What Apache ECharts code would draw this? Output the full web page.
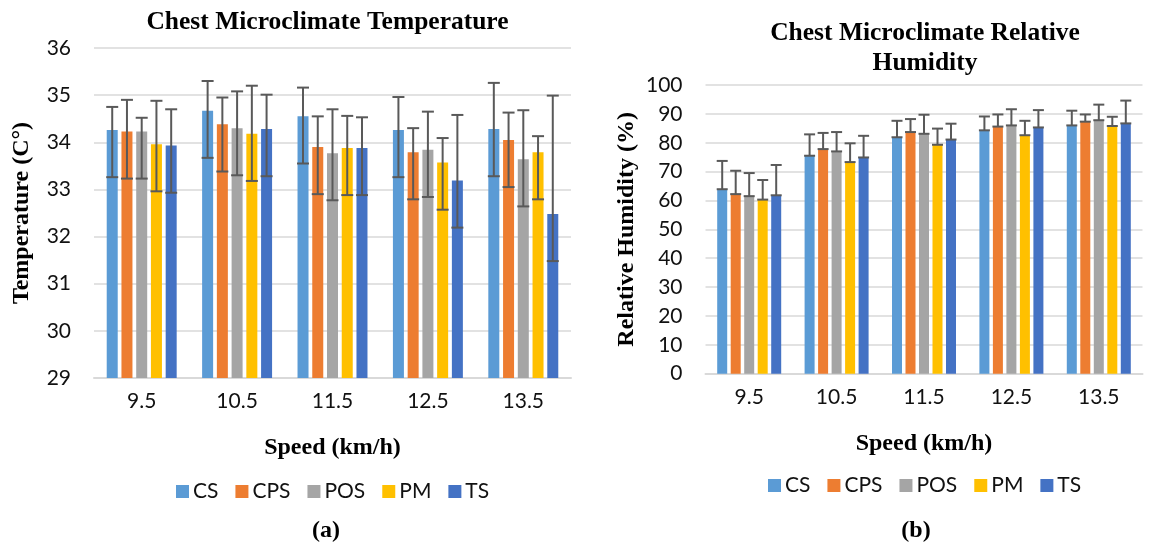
<!DOCTYPE html>
<html><head><meta charset="utf-8">
<script src="https://cdn.jsdelivr.net/npm/echarts@6/dist/echarts.min.js"></script>
<style>html,body{margin:0;padding:0;background:#fff}#c{width:1152px;height:546px}</style>
</head><body><div id="c"></div>
<script>
// ---------- data ----------
const categories = ['9.5', '10.5', '11.5', '12.5', '13.5'];
const seriesNames = ['CS', 'CPS', 'POS', 'PM', 'TS'];

// (a) Chest microclimate temperature (°C)
const tempCS  = [34.26, 34.67, 34.55, 34.26, 34.28];
const tempCPS = [34.23, 34.38, 33.90, 33.79, 34.05];
const tempPOS = [34.23, 34.30, 33.77, 33.84, 33.64];
const tempPM  = [33.96, 34.18, 33.88, 33.57, 33.79];
const tempTS  = [33.93, 34.28, 33.88, 33.19, 32.48];
// error bars (upper / lower amounts)
const tempPlusCS  = [0.49, 0.63, 0.61, 0.70, 0.98];
const tempPlusCPS = [0.67, 0.57, 0.65, 0.51, 0.58];
const tempPlusPOS = [0.29, 0.78, 0.93, 0.81, 1.04];
const tempPlusPM  = [0.92, 1.02, 0.68, 0.52, 0.34];
const tempPlusTS  = [0.77, 0.73, 0.65, 1.39, 2.51];
const tempMinus   = [1.00, 1.00, 1.00, 1.00, 1.00];
const tempTicks = [29, 30, 31, 32, 33, 34, 35, 36];

// (b) Chest microclimate relative humidity (%)
const rhCS  = [63.9, 75.5, 81.9, 84.3, 86.0];
const rhCPS = [62.2, 77.8, 83.7, 85.6, 87.3];
const rhPOS = [61.5, 77.0, 83.1, 86.0, 87.8];
const rhPM  = [60.3, 73.3, 79.3, 82.6, 85.8];
const rhTS  = [61.8, 74.9, 81.1, 85.3, 86.7];
const rhPlusCS  = [9.8, 7.4, 5.7, 4.8, 5.1];
const rhPlusCPS = [8.1, 5.6, 4.5, 4.2, 2.5];
const rhPlusPOS = [8.0, 6.7, 6.6, 5.6, 5.4];
const rhPlusPM  = [6.8, 6.5, 5.6, 5.0, 3.2];
const rhPlusTS  = [10.5, 7.5, 5.5, 6.0, 7.9];
const rhMinus   = [0, 0, 0, 0, 0];
const rhTicks = [0, 10, 20, 30, 40, 50, 60, 70, 80, 90, 100];

// ---------- styling ----------
const colors = ['#5B9BD5', '#ED7D31', '#A5A5A5', '#FFC000', '#4472C4'];
const SERIF = '"Liberation Serif", "Times New Roman", serif';
const SANS = 'Lato, "Open Sans", sans-serif';
const gridColor = '#D9D9D9';
const errColor = '#595959';

const tempVals = [tempCS, tempCPS, tempPOS, tempPM, tempTS];
const tempPlus = [tempPlusCS, tempPlusCPS, tempPlusPOS, tempPlusPM, tempPlusTS];
const rhVals = [rhCS, rhCPS, rhPOS, rhPM, rhTS];
const rhPlus = [rhPlusCS, rhPlusCPS, rhPlusPOS, rhPlusPM, rhPlusTS];

const BAR_A = 11, GAP_A = 0.34, CAP_A = 12;
const BAR_B = 10, GAP_B = 0.35, CAP_B = 11;

function errData(vals, plus, minus) {
  const out = [];
  vals.forEach((arr, si) => arr.forEach((v, ci) => {
    out.push([ci, si, v - minus[ci], v + plus[si][ci]]);
  }));
  return out;
}

function errRender(w, gap, capW) {
  const n = seriesNames.length;
  return function (params, api) {
    const ci = api.value(0), si = api.value(1);
    const lo = api.value(2), hi = api.value(3);
    const off = (si - (n - 1) / 2) * w * (1 + gap);
    const pLo = api.coord([ci, lo]);
    const pHi = api.coord([ci, hi]);
    const cx = pLo[0] + off;
    const st = { stroke: errColor, lineWidth: 2 };
    return {
      type: 'group',
      children: [
        { type: 'line', shape: { x1: cx, y1: pLo[1], x2: cx, y2: pHi[1] }, style: st },
        { type: 'line', shape: { x1: cx - capW / 2, y1: pHi[1], x2: cx + capW / 2, y2: pHi[1] }, style: st },
        { type: 'line', shape: { x1: cx - capW / 2, y1: pLo[1], x2: cx + capW / 2, y2: pLo[1] }, style: st }
      ]
    };
  };
}

function xAxisCfg(gi) {
  return {
    type: 'category', gridIndex: gi, data: categories,
    axisLine: { lineStyle: { color: gridColor, width: 2 } },
    axisTick: { show: false },
    axisLabel: { color: '#111', fontFamily: SANS, fontSize: 21, margin: 13 },
    name: 'Speed (km/h)', nameLocation: 'middle', nameGap: 58,
    nameTextStyle: { color: '#000', fontFamily: SERIF, fontWeight: 'bold', fontSize: 24 }
  };
}
function yAxisCfg(gi, min, max, interval, name, gap) {
  return {
    type: 'value', gridIndex: gi, min: min, max: max, interval: interval,
    axisLine: { show: false }, axisTick: { show: false },
    splitLine: { lineStyle: { color: gridColor, width: 1.5 } },
    axisLabel: { color: '#111', fontFamily: SANS, fontSize: 21, margin: 23 },
    name: name, nameLocation: 'middle', nameGap: gap, nameRotate: 90,
    nameTextStyle: { color: '#000', fontFamily: SERIF, fontWeight: 'bold', fontSize: 24 }
  };
}

const series = [];
seriesNames.forEach((nm, i) => {
  series.push({ name: nm, type: 'bar', xAxisIndex: 0, yAxisIndex: 0, data: tempVals[i],
    barWidth: BAR_A, barGap: (GAP_A * 100) + '%', itemStyle: { color: colors[i] } });
});
seriesNames.forEach((nm, i) => {
  series.push({ name: nm, type: 'bar', xAxisIndex: 1, yAxisIndex: 1, data: rhVals[i],
    barWidth: BAR_B, barGap: (GAP_B * 100) + '%', itemStyle: { color: colors[i] } });
});
series.push({ name: 'errA', type: 'custom', xAxisIndex: 0, yAxisIndex: 0, z: 10,
  renderItem: errRender(BAR_A, GAP_A, CAP_A), encode: { x: 0, y: [2, 3] },
  data: errData(tempVals, tempPlus, tempMinus), silent: true });
series.push({ name: 'errB', type: 'custom', xAxisIndex: 1, yAxisIndex: 1, z: 10,
  renderItem: errRender(BAR_B, GAP_B, CAP_B), encode: { x: 0, y: [2, 3] },
  data: errData(rhVals, rhPlus, rhMinus), silent: true });

const legendBase = {
  data: seriesNames, icon: 'rect', itemWidth: 13, itemHeight: 13, itemGap: 17,
  textStyle: { color: '#111', fontFamily: SANS, fontSize: 21, padding: [0, 0, 0, -1] },
  padding: 0
};

const option = {
  animation: false,
  backgroundColor: '#fff',
  color: colors,
  title: [
    { text: 'Chest Microclimate Temperature', left: 327.5, top: 9, textAlign: 'center', padding: 0,
      textStyle: { fontFamily: SERIF, fontWeight: 'bold', fontSize: 25.5, color: '#000' } },
    { text: 'Chest Microclimate Relative\nHumidity', left: 925, top: 18, textAlign: 'center', padding: 0,
      textStyle: { fontFamily: SERIF, fontWeight: 'bold', fontSize: 25.5, color: '#000', lineHeight: 30 } },
    { text: '(a)', left: 326, top: 519, textAlign: 'center', padding: 0,
      textStyle: { fontFamily: SERIF, fontWeight: 'bold', fontSize: 24, color: '#000' } },
    { text: '(b)', left: 916, top: 519, textAlign: 'center', padding: 0,
      textStyle: { fontFamily: SERIF, fontWeight: 'bold', fontSize: 24, color: '#000' } }
  ],
  legend: [
    Object.assign({}, legendBase, { left: 176, top: 481 }),
    Object.assign({}, legendBase, { left: 768, top: 475 })
  ],
  grid: [
    { left: 94, right: 581, top: 48, bottom: 168 },
    { left: 705.5, right: 9.5, top: 85, bottom: 172.3 }
  ],
  xAxis: [xAxisCfg(0), xAxisCfg(1)],
  yAxis: [
    yAxisCfg(0, tempTicks[0], tempTicks[tempTicks.length - 1], tempTicks[1] - tempTicks[0], 'Temperature (C°)', 60),
    yAxisCfg(1, rhTicks[0], rhTicks[rhTicks.length - 1], rhTicks[1] - rhTicks[0], 'Relative Humidity (%)', 67)
  ],
  series: series
};

const chart = echarts.init(document.getElementById('c'), null, { renderer: 'canvas' });
chart.setOption(option);
</script>
</body></html>
